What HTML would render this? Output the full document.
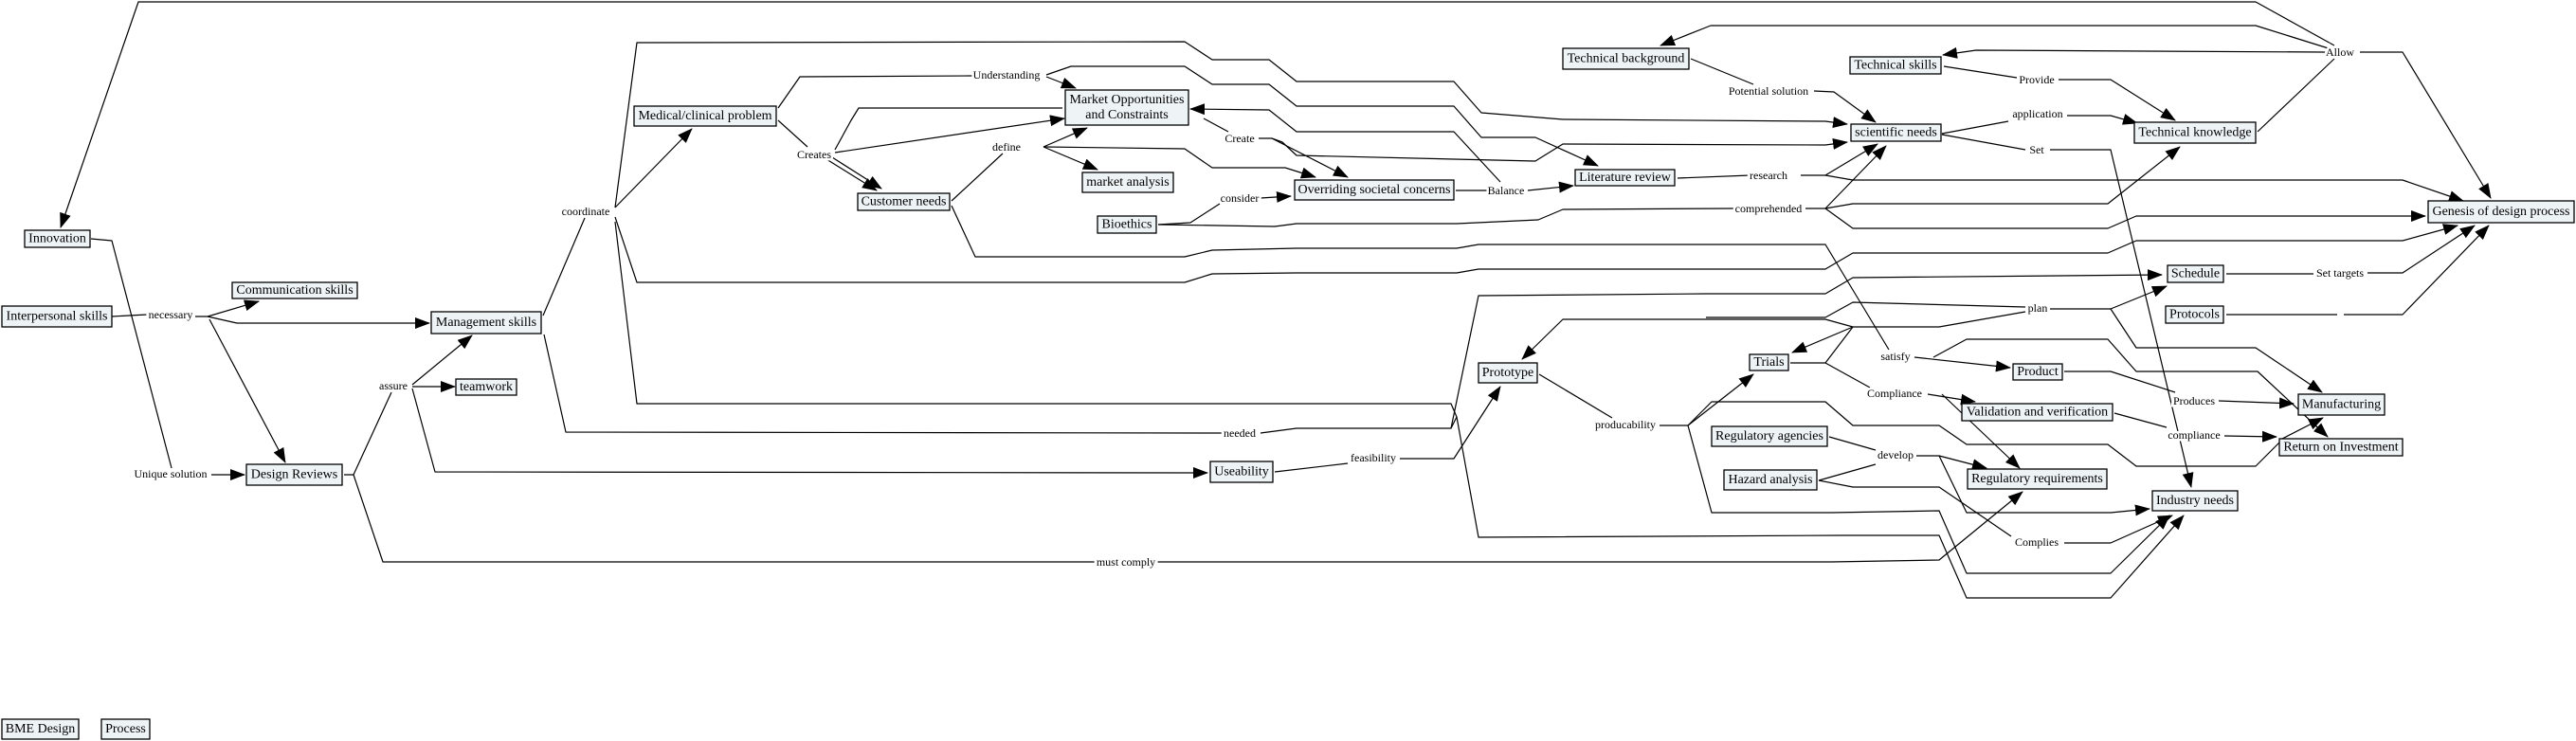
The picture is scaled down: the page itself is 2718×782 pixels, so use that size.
<!DOCTYPE html>
<html><head><meta charset="utf-8"><style>
html,body{margin:0;padding:0;background:#fff;}
svg{display:block;}
.n rect{fill:#eef3f5;stroke:#000;stroke-width:1.3;}
.n text{font-family:"Liberation Serif",serif;font-size:14px;text-anchor:middle;dominant-baseline:central;fill:#000;}
.e{fill:none;stroke:#000;stroke-width:1.2;stroke-linejoin:round;}
.a{marker-end:url(#ar);}
.l{font-family:"Liberation Serif",serif;font-size:12px;text-anchor:middle;dominant-baseline:central;fill:#000;stroke:#fff;stroke-width:5px;paint-order:stroke;}
</style></head><body>
<svg width="2718" height="782" viewBox="0 0 2718 782" xmlns="http://www.w3.org/2000/svg">
<defs><marker id="ar" markerUnits="userSpaceOnUse" markerWidth="16" markerHeight="12" refX="15" refY="6" orient="auto"><path d="M0,0 L16,6 L0,12 z" fill="#000"/></marker></defs>
<g>
<!-- Allow edges -->
<path class="e a" d="M2463,48 L2380,2 L146,2 L64,240"/>
<path class="e a" d="M2460,52 L2380,27 L1805,27 L1752,48"/>
<path class="e a" d="M2453,55 L2085,53 L2050,58"/>
<path class="e a" d="M2490,55 L2535,55 L2628,209"/>
<path class="e" d="M2382,139 L2463,62"/>
<!-- left area -->
<path class="e" d="M118,334 L155,332"/>
<path class="e a" d="M206,334 L219,334 L273,318"/>
<path class="e a" d="M219,334 L250,341 L453,341"/>
<path class="e a" d="M221,337 L301,488"/>
<path class="e" d="M96,252 L118,254 L181,494"/>
<path class="e a" d="M223,501 L258,501"/>
<path class="e" d="M363,501 L373,501 L413,414"/>
<path class="e a" d="M435,406 L498,354"/>
<path class="e a" d="M435,408 L480,408"/>
<path class="e a" d="M435,410 L459,498 L1274,499"/>
<path class="e a" d="M373,501 L404,593 L1932,593 L2046,591 L2134,519"/>
<path class="e" d="M573,333 L617,230"/>
<path class="e a" d="M649,219 L730,136"/>
<path class="e" d="M574,353 L597,456 L1290,457"/>
<path class="e a" d="M1330,457 L1368,452 L1531,452 L1560,312 L1800,310 L1926,310 L1955,293 L2281,290"/>
<path class="e a" d="M649,219 L672,45 L1250,44 L1279,63 L1339,63 L1368,86 L1534,86 L1563,119 L1649,126 L1926,128 L1949,131"/>
<path class="e a" d="M649,229 L672,298 L1250,298 L1279,289 L1368,288 L1537,288 L1560,284 L1926,284 L1955,267 L2224,267 L2254,254 L2535,254 L2593,238"/>
<path class="e" d="M649,234 L672,426 L1531,426 L1537,440 L1531,452"/>
<!-- Medical -->
<path class="e" d="M821,114 L844,81 L1026,80"/>
<path class="e a" d="M1104,81 L1135,93"/>
<path class="e a" d="M1104,79 L1130,70 L1250,70 L1279,89 L1339,89 L1368,112 L1534,112 L1563,145 L1620,145 L1686,175"/>
<path class="e" d="M821,127 L852,155"/>
<path class="e a" d="M881,161 L1123,125"/>
<path class="e" d="M881,158 L898,127 L906,114 L1121,114"/>
<path class="e a" d="M878,166 L930,199"/>
<path class="e a" d="M872,168 L925,201"/>
<!-- customer -->
<path class="e" d="M1004,212 L1058,162"/>
<path class="e a" d="M1101,155 L1147,135"/>
<path class="e a" d="M1101,155 L1158,179"/>
<path class="e a" d="M1101,155 L1250,157 L1279,177 L1356,177 L1388,187"/>
<path class="e" d="M1004,217 L1029,271 L1250,271 L1279,264 L1368,262 L1537,262 L1560,258 L1926,258 L1993,369"/>
<path class="e" d="M1222,237 L1256,235 L1287,215"/>
<path class="e a" d="M1330,209 L1362,207"/>
<path class="e" d="M1222,237 L1345,239 L1368,236 L1537,236 L1623,232 L1649,221 L1829,220"/>
<path class="e a" d="M1905,220 L1926,220 L1990,154"/>
<path class="e a" d="M1926,220 L1955,215 L2224,215 L2300,155"/>
<path class="e a" d="M1926,220 L1955,241 L2224,241 L2254,228 L2559,228"/>
<path class="e a" d="M1583,192 L1534,139 L1368,139 L1339,116 L1256,115"/>
<path class="e" d="M1270,125 L1296,139"/>
<path class="e a" d="M1328,146 L1342,146 L1422,187"/>
<path class="e a" d="M1342,146 L1353,150 L1368,164 L1620,170 L1649,152 L1926,153 L1949,150"/>
<path class="e" d="M1536,201 L1569,201"/>
<path class="e a" d="M1612,201 L1660,196"/>
<path class="e" d="M1770,188 L1847,185"/>
<path class="e a" d="M1900,185 L1926,185 L1981,152"/>
<path class="e a" d="M1926,185 L1955,190 L2535,190 L2599,212"/>
<path class="e" d="M1784,62 L1850,89"/>
<path class="e a" d="M1914,96 L1935,97 L1979,129"/>
<path class="e" d="M2049,141 L2119,128"/>
<path class="e a" d="M2181,122 L2227,122 L2255,130"/>
<path class="e" d="M2049,142 L2137,158"/>
<path class="e a" d="M2163,158 L2227,158 L2312,514"/>
<path class="e" d="M2051,70 L2128,82"/>
<path class="e a" d="M2172,84 L2227,84 L2295,127"/>
<path class="e" d="M2349,289 L2441,289"/>
<path class="e a" d="M2498,288 L2535,288 L2611,238"/>
<path class="e" d="M2349,332 L2466,332"/>
<path class="e a" d="M2473,332 L2535,332 L2626,238"/>
<!-- plan -->
<path class="e" d="M1926,335 L1955,319 L2137,324"/>
<path class="e" d="M1800,335 L1926,335"/>
<path class="e a" d="M2163,326 L2227,326 L2286,302"/>
<path class="e a" d="M2227,326 L2254,367 L2380,367 L2450,414"/>
<path class="e a" d="M2137,329 L2046,345 L1955,345 L1891,372"/>
<path class="e a" d="M1955,345 L1926,337 L1649,337 L1606,379"/>
<path class="e" d="M1624,395 L1701,441"/>
<path class="e a" d="M1751,449 L1781,449 L1850,395"/>
<path class="e a" d="M1781,449 L1806,541 L1932,541 L2046,539 L2075,605 L2227,605 L2289,544"/>
<path class="e" d="M1345,498 L1422,489"/>
<path class="e a" d="M1477,484 L1534,484 L1583,408"/>
<path class="e a" d="M1537,440 L1560,567 L1946,565 L2046,565 L2075,631 L2227,631 L2304,544"/>
<path class="e" d="M1889,383 L1926,383 L1973,409"/>
<path class="e" d="M1926,383 L1955,345"/>
<path class="e a" d="M2034,416 L2084,424"/>
<path class="e a" d="M2049,416 L2131,494"/>
<path class="e a" d="M2020,377 L2121,388"/>
<path class="e a" d="M2040,377 L2075,358 L2224,358 L2254,392 L2382,392 L2456,461"/>
<path class="e" d="M2178,392 L2227,392 L2295,414"/>
<path class="e a" d="M2341,423 L2420,426"/>
<path class="e" d="M2231,436 L2286,451"/>
<path class="e a" d="M2347,460 L2402,461"/>
<path class="e a" d="M2406,464 L2451,441"/>
<path class="e" d="M2406,466 L2380,492 L2254,492 L2224,469 L2075,469 L2046,449 L1955,449 L1926,424 L1806,424 L1781,449"/>
<path class="e" d="M1930,461 L1979,475"/>
<path class="e" d="M1919,507 L1979,490"/>
<path class="e a" d="M2022,481 L2046,481 L2096,494"/>
<path class="e a" d="M2046,481 L2075,541 L2227,541 L2268,537"/>
<path class="e" d="M1919,507 L1955,514 L2046,514 L2122,566"/>
<path class="e a" d="M2178,573 L2227,573 L2292,544"/>
</g>
<!-- labels -->
<text class="l" x="180" y="332">necessary</text>
<text class="l" x="180" y="500">Unique solution</text>
<text class="l" x="415" y="407">assure</text>
<text class="l" x="618" y="223">coordinate</text>
<text class="l" x="859" y="163">Creates</text>
<text class="l" x="1062" y="79">Understanding</text>
<text class="l" x="1062" y="155">define</text>
<text class="l" x="1308" y="146">Create</text>
<text class="l" x="1308" y="209">consider</text>
<text class="l" x="1589" y="201">Balance</text>
<text class="l" x="1308" y="457">needed</text>
<text class="l" x="1449" y="483">feasibility</text>
<text class="l" x="1715" y="448">producability</text>
<text class="l" x="1188" y="593">must comply</text>
<text class="l" x="1866" y="96">Potential solution</text>
<text class="l" x="1866" y="185">research</text>
<text class="l" x="1866" y="220">comprehended</text>
<text class="l" x="2150" y="120">application</text>
<text class="l" x="2149" y="158">Set</text>
<text class="l" x="2149" y="84">Provide</text>
<text class="l" x="2469" y="55">Allow</text>
<text class="l" x="2469" y="288">Set targets</text>
<text class="l" x="2150" y="325">plan</text>
<text class="l" x="2000" y="376">satisfy</text>
<text class="l" x="1999" y="415">Compliance</text>
<text class="l" x="2000" y="480">develop</text>
<text class="l" x="2149" y="572">Complies</text>
<text class="l" x="2315" y="423">Produces</text>
<text class="l" x="2315" y="459">compliance</text>
<!-- nodes -->
<g class="n">
<rect x="26" y="243" width="69" height="18"/><text x="60.5" y="252">Innovation</text>
<rect x="2" y="323" width="116" height="22"/><text x="60" y="334">Interpersonal skills</text>
<rect x="245" y="298" width="132" height="17"/><text x="311" y="306.5">Communication skills</text>
<rect x="455" y="329" width="116" height="23"/><text x="513" y="340.5">Management skills</text>
<rect x="481" y="400" width="64" height="17"/><text x="513" y="408.5">teamwork</text>
<rect x="260" y="490" width="101" height="22"/><text x="310.5" y="501">Design Reviews</text>
<rect x="669" y="112" width="150" height="21"/><text x="744" y="122.5">Medical/clinical problem</text>
<rect x="2" y="759" width="81" height="21"/><text x="42.5" y="769.5">BME Design</text>
<rect x="107" y="759" width="51" height="21"/><text x="132.5" y="769.5">Process</text>
<rect x="905" y="204" width="97" height="18"/><text x="953.5" y="213">Customer needs</text>
<rect x="1124" y="95" width="130" height="37"/><text x="1189" y="105.5">Market Opportunities</text><text x="1189" y="121.5">and Constraints</text>
<rect x="1142" y="182" width="96" height="21"/><text x="1190" y="192.5">market analysis</text>
<rect x="1158" y="228" width="62" height="18"/><text x="1189" y="237">Bioethics</text>
<rect x="1366" y="190" width="168" height="21"/><text x="1450" y="200.5">Overriding societal concerns</text>
<rect x="1662" y="179" width="105" height="17"/><text x="1714.5" y="187.5">Literature review</text>
<rect x="1649" y="51" width="133" height="22"/><text x="1715.5" y="62">Technical background</text>
<rect x="1560" y="383" width="62" height="21"/><text x="1591" y="393.5">Prototype</text>
<rect x="1277" y="487" width="66" height="22"/><text x="1310" y="498">Useability</text>
<rect x="1952" y="60" width="96" height="18"/><text x="2000" y="69">Technical skills</text>
<rect x="1953" y="131" width="95" height="18"/><text x="2000.5" y="140">scientific needs</text>
<rect x="2252" y="129" width="128" height="22"/><text x="2316" y="140">Technical knowledge</text>
<rect x="2562" y="212" width="154" height="23"/><text x="2639" y="223.5">Genesis of design process</text>
<rect x="2287" y="280" width="59" height="18"/><text x="2316.5" y="289">Schedule</text>
<rect x="2285" y="323" width="61" height="18"/><text x="2315.5" y="332">Protocols</text>
<rect x="1846" y="374" width="41" height="17"/><text x="1866.5" y="382.5">Trials</text>
<rect x="2124" y="384" width="52" height="17"/><text x="2150" y="392.5">Product</text>
<rect x="2070" y="426" width="159" height="18"/><text x="2149.5" y="435">Validation and verification</text>
<rect x="2425" y="416" width="91" height="22"/><text x="2470.5" y="427">Manufacturing</text>
<rect x="2405" y="463" width="130" height="18"/><text x="2470" y="472">Return on Investment</text>
<rect x="1806" y="450" width="122" height="21"/><text x="1867" y="460.5">Regulatory agencies</text>
<rect x="1819" y="496" width="98" height="21"/><text x="1868" y="506.5">Hazard analysis</text>
<rect x="2076" y="495" width="147" height="21"/><text x="2149.5" y="505.5">Regulatory requirements</text>
<rect x="2271" y="518" width="90" height="21"/><text x="2316" y="528.5">Industry needs</text>
</g>
</svg>
</body></html>
